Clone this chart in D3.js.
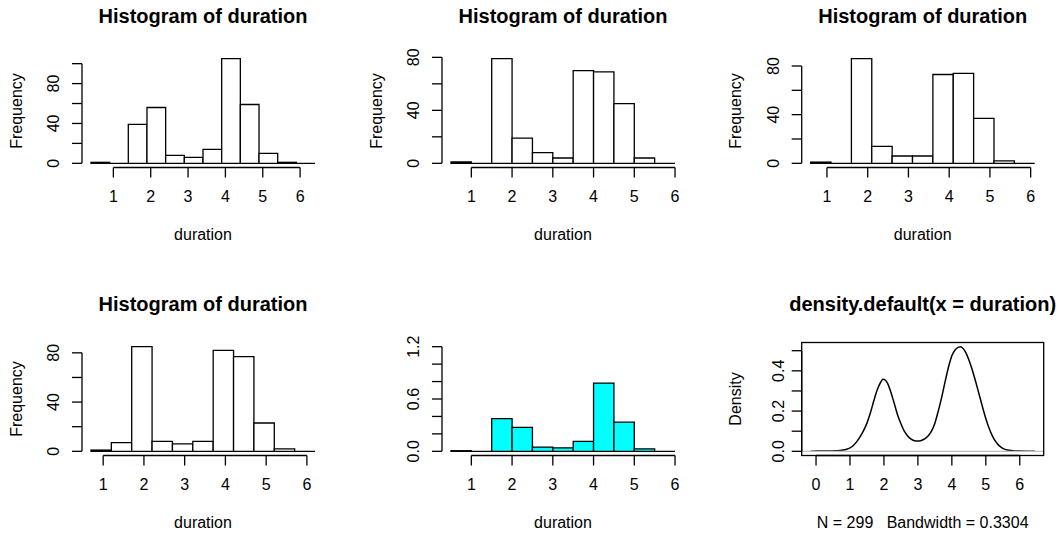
<!DOCTYPE html>
<html>
<head>
<meta charset="utf-8">
<script src="https://cdn.jsdelivr.net/npm/d3@7"></script>
<style>
  html, body { margin: 0; padding: 0; background: #ffffff; }
  svg { display: block; }
  text { font-family: "Liberation Sans", Arial, Helvetica, sans-serif; fill: #000; white-space: pre; }
</style>
</head>
<body>
<svg id="chart" width="1059" height="534"></svg>
<script>
// ---------------- DATA ----------------
// Panel 1: breaks 0.4 .. 6.4
const p1Breaks = [0.4, 0.9, 1.4, 1.9, 2.4, 2.9, 3.4, 3.9, 4.4, 4.9, 5.4, 5.9, 6.4];
const p1Counts = [1, 0, 39, 56, 8, 6, 14, 105, 59, 10, 1, 0];
// Panel 2: breaks 0.5 .. 6.0
const p2Breaks = [0.5, 1.0, 1.5, 2.0, 2.5, 3.0, 3.5, 4.0, 4.5, 5.0, 5.5, 6.0];
const p2Counts = [1, 0, 79, 19, 8, 4, 70, 69, 45, 4, 0];
// Panel 3: breaks 0.6 .. 6.1
const p3Breaks = [0.6, 1.1, 1.6, 2.1, 2.6, 3.1, 3.6, 4.1, 4.6, 5.1, 5.6, 6.1];
const p3Counts = [1, 0, 86, 14, 6, 6, 73, 74, 37, 2, 0];
// Panel 4: breaks 0.7 .. 6.2
const p4Breaks = [0.7, 1.2, 1.7, 2.2, 2.7, 3.2, 3.7, 4.2, 4.7, 5.2, 5.7, 6.2];
const p4Counts = [1, 7, 85, 8, 6, 8, 82, 77, 23, 2, 0];
// Panel 5: density histogram, breaks 0.5 .. 6.0
const p5Breaks = [0.5, 1.0, 1.5, 2.0, 2.5, 3.0, 3.5, 4.0, 4.5, 5.0, 5.5, 6.0];
const p5Density = [0.007, 0, 0.375, 0.274, 0.047, 0.040, 0.114, 0.783, 0.334, 0.027, 0];
const p5YLimit = [0, 1.2];
// Panel 6: kernel density estimate
const densX = [-0.158, 0.0, 0.2, 0.4, 0.6, 0.7, 0.8, 0.9, 1.0, 1.1, 1.2, 1.3, 1.4, 1.5, 1.6, 1.7, 1.8, 1.9, 1.97, 2.05, 2.1, 2.2, 2.3, 2.4, 2.5, 2.6, 2.7, 2.8, 2.9, 3.0, 3.1, 3.2, 3.3, 3.4, 3.5, 3.6, 3.7, 3.8, 3.9, 4.0, 4.1, 4.2, 4.25, 4.3, 4.4, 4.5, 4.6, 4.7, 4.8, 4.9, 5.0, 5.1, 5.2, 5.3, 5.4, 5.5, 5.6, 5.7, 5.8, 6.0, 6.2, 6.441];
const densY = [0.0004, 0.001, 0.0015, 0.002, 0.003, 0.004, 0.006, 0.010, 0.017, 0.029, 0.048, 0.073, 0.103, 0.140, 0.190, 0.250, 0.305, 0.342, 0.358, 0.352, 0.340, 0.296, 0.240, 0.182, 0.137, 0.100, 0.076, 0.060, 0.053, 0.051, 0.054, 0.062, 0.076, 0.100, 0.140, 0.200, 0.268, 0.345, 0.418, 0.475, 0.505, 0.518, 0.520, 0.516, 0.494, 0.455, 0.405, 0.347, 0.285, 0.222, 0.163, 0.113, 0.074, 0.046, 0.027, 0.015, 0.008, 0.005, 0.003, 0.0015, 0.0007, 0.0003];
const densN = 299;
const densBandwidth = "0.3304";

// Tick values and labels
const histXTicks = [1, 2, 3, 4, 5, 6];
const densXTicks = [0, 1, 2, 3, 4, 5, 6];
const p1YTicks = [0, 20, 40, 60, 80, 100];
const freqYTicks = [0, 20, 40, 60, 80];
const freqYLabels = [0, 40, 80];
const p5YTicks = [0, 0.2, 0.4, 0.6, 0.8, 1.0, 1.2];
const p5YLabels = [0, 0.6, 1.2];
const densYTicks = [0, 0.1, 0.2, 0.3, 0.4, 0.5];
const densYLabels = [0, 0.2, 0.4];

// Text
const histTitle = "Histogram of duration";
const densTitle = "density.default(x = duration)";
const xLabel = "duration";
const freqLabel = "Frequency";
const densLabel = "Density";

// ---------------- LAYOUT ----------------
const colLeft = [82, 442, 801.7];
const rowTop = [54.5, 342.5];
const plotW = 242, plotH = 113;
const TICK = 10;
const LW = 1.3;

const svg = d3.select("#chart");
svg.append("rect").attr("width", 1059).attr("height", 534).attr("fill", "#fff");

function ext(lo, hi) { const d = (hi - lo) * 0.04; return [lo - d, hi + d]; }

function makePanel(col, row) {
  const L = colLeft[col], T = rowTop[row];
  return { L, T, R: L + plotW, B: T + plotH, g: svg.append("g") };
}

function xAxis(p, x, ticks) {
  const y0 = p.B;
  p.g.append("line").attr("x1", x(ticks[0])).attr("x2", x(ticks[ticks.length - 1]))
    .attr("y1", y0).attr("y2", y0).attr("stroke", "#000").attr("stroke-width", LW);
  p.g.selectAll(null).data(ticks).enter().append("line")
    .attr("x1", d => x(d)).attr("x2", d => x(d)).attr("y1", y0).attr("y2", y0 + TICK)
    .attr("stroke", "#000").attr("stroke-width", LW);
  p.g.selectAll(null).data(ticks).enter().append("text")
    .attr("x", d => x(d)).attr("y", y0 + 34).attr("text-anchor", "middle")
    .attr("font-size", 16).text(d => d);
}

function yAxis(p, y, ticks, labels, fmt, labelOffset) {
  const x0 = p.L;
  p.g.append("line").attr("x1", x0).attr("x2", x0)
    .attr("y1", y(ticks[0])).attr("y2", y(ticks[ticks.length - 1]))
    .attr("stroke", "#000").attr("stroke-width", LW);
  p.g.selectAll(null).data(ticks).enter().append("line")
    .attr("x1", x0).attr("x2", x0 - TICK).attr("y1", d => y(d)).attr("y2", d => y(d))
    .attr("stroke", "#000").attr("stroke-width", LW);
  p.g.selectAll(null).data(labels).enter().append("text")
    .attr("transform", d => `translate(${x0 - labelOffset},${y(d)}) rotate(-90)`)
    .attr("text-anchor", "middle").attr("font-size", 16).text(d => fmt(d));
}

function labels(p, title, xlab, ylab) {
  const cx = (p.L + p.R) / 2, cy = (p.T + p.B) / 2;
  if (title) p.g.append("text").attr("x", cx).attr("y", p.T - 31.2)
    .attr("text-anchor", "middle").attr("font-size", 20).attr("font-weight", "bold").text(title);
  if (xlab) p.g.append("text").attr("x", cx).attr("y", p.B + 72.5)
    .attr("text-anchor", "middle").attr("font-size", 16).attr("xml:space", "preserve").text(xlab);
  if (ylab) p.g.append("text")
    .attr("transform", `translate(${p.L - 60.5},${cy}) rotate(-90)`)
    .attr("text-anchor", "middle").attr("font-size", 16).text(ylab);
}

function histPanel(col, row, breaks, values, ylim, yTicks, yLabels, fmt, fill, title, ylab) {
  const p = makePanel(col, row);
  const x = d3.scaleLinear().domain(ext(breaks[0], breaks[breaks.length - 1])).range([p.L, p.R]);
  const y = d3.scaleLinear().domain(ext(ylim[0], ylim[1])).range([p.B, p.T]);
  const bins = values.map((v, i) => ({ x0: breaks[i], x1: breaks[i + 1], v }));
  // Drawn as closed paths so that empty bins still show as a line on the baseline
  p.g.selectAll(null).data(bins).enter().append("path")
    .attr("d", d => {
      const path = d3.path();
      path.moveTo(x(d.x0), y(0));
      path.lineTo(x(d.x0), y(d.v));
      path.lineTo(x(d.x1), y(d.v));
      path.lineTo(x(d.x1), y(0));
      path.closePath();
      return path.toString();
    })
    .attr("fill", fill).attr("stroke", "#000").attr("stroke-width", LW)
    .attr("stroke-linejoin", "miter");
  xAxis(p, x, histXTicks);
  yAxis(p, y, yTicks, yLabels, fmt, 23);
  labels(p, title, xLabel, ylab);
}

const intFmt = d => String(d);
const dec1 = d => d.toFixed(1);

histPanel(0, 0, p1Breaks, p1Counts, [0, d3.max(p1Counts)], p1YTicks, freqYLabels, intFmt, "#fff", histTitle, freqLabel);
histPanel(1, 0, p2Breaks, p2Counts, [0, d3.max(p2Counts)], freqYTicks, freqYLabels, intFmt, "#fff", histTitle, freqLabel);
histPanel(2, 0, p3Breaks, p3Counts, [0, d3.max(p3Counts)], freqYTicks, freqYLabels, intFmt, "#fff", histTitle, freqLabel);
histPanel(0, 1, p4Breaks, p4Counts, [0, d3.max(p4Counts)], freqYTicks, freqYLabels, intFmt, "#fff", histTitle, freqLabel);
histPanel(1, 1, p5Breaks, p5Density, p5YLimit, p5YTicks, p5YLabels, dec1, "#00ffff", null, null);

// Density panel
(function () {
  const p = makePanel(2, 1);
  const x = d3.scaleLinear().domain(ext(d3.min(densX), d3.max(densX))).range([p.L, p.R]);
  const y = d3.scaleLinear().domain(ext(0, d3.max(densY))).range([p.B, p.T]);
  const pts = densX.map((v, i) => [v, densY[i]]);
  const line = d3.line().x(d => x(d[0])).y(d => y(d[1])).curve(d3.curveMonotoneX);
  p.g.append("path").attr("d", line(pts)).attr("fill", "none")
    .attr("stroke", "#000").attr("stroke-width", 1.5);
  p.g.append("line").attr("x1", p.L).attr("x2", p.R).attr("y1", y(0)).attr("y2", y(0))
    .attr("stroke", "#bebebe").attr("stroke-width", 1.2);
  p.g.append("rect").attr("x", p.L).attr("y", p.T).attr("width", plotW).attr("height", plotH)
    .attr("fill", "none").attr("stroke", "#000").attr("stroke-width", LW);
  xAxis(p, x, densXTicks);
  yAxis(p, y, densYTicks, densYLabels, dec1, 18);
  labels(p, densTitle, `N = ${densN}   Bandwidth = ${densBandwidth}`, densLabel);
})();
</script>
</body>
</html>
